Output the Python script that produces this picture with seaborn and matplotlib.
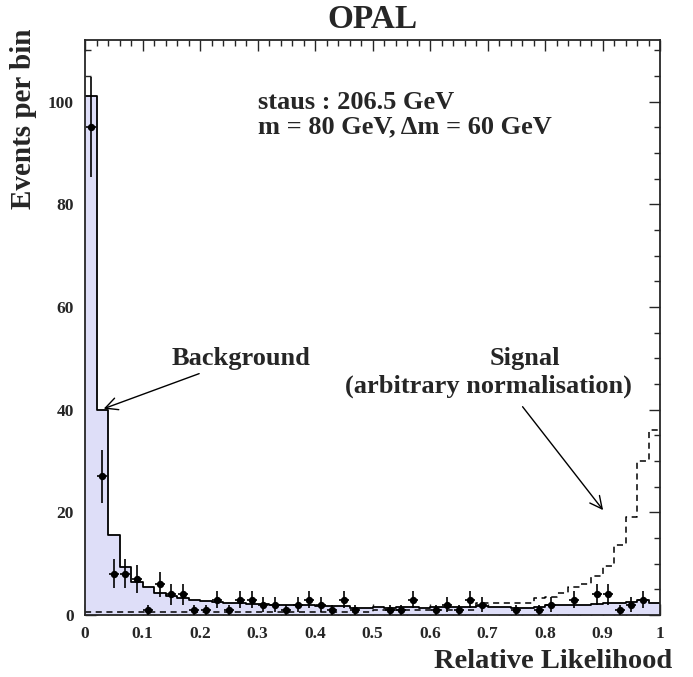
import numpy as np
import pandas as pd
import matplotlib
matplotlib.use("Agg")
import matplotlib.pyplot as plt
from matplotlib.ticker import MultipleLocator, FixedLocator, FixedFormatter
import seaborn as sns

# ---- data (50 bins of width 0.02 between 0 and 1) ----
bin_edges = [round(i * 0.02, 2) for i in range(51)]
background = [101, 40, 15.6, 9.3, 6.5, 5.4, 4.35, 3.7, 3.4, 2.9,
              2.7, 2.6, 2.4, 2.3, 2.2, 2.1, 2.0, 2.0, 1.9, 1.9,
              1.8, 1.7, 1.7, 1.4, 1.3, 1.5, 1.4, 1.5, 1.6, 1.4,
              1.5, 1.6, 1.5, 1.6, 1.7, 1.5, 1.5, 1.4, 1.4, 1.5,
              1.9, 1.9, 2.0, 2.0, 2.1, 2.4, 2.4, 2.5, 3.0, 2.3]
signal = [0.5] * 25 + [1.0, 1.0, 1.0, 1.0, 1.0, 1.0, 1.0, 1.0, 1.0,
                       2.3, 2.3, 2.3, 2.3, 2.3,
                       3.3, 3.5, 4.2, 5.5, 6.0, 7.5, 9.6, 13.6, 19.0, 29.9, 36.1]
data_counts = [95, 27, 8, 8, 7, 1, 6, 4, 4, 1,
               1, 3, 1, 3, 3, 2, 2, 1, 2, 3,
               2, 1, 3, 1, 0, 0, 1, 1, 3, 0,
               1, 2, 1, 3, 2, 0, 0, 1, 0, 1,
               2, 0, 3, 0, 4, 4, 1, 2, 3, 0]
x_tick_values = [0, 0.1, 0.2, 0.3, 0.4, 0.5, 0.6, 0.7, 0.8, 0.9, 1.0]
x_tick_labels = ["0", "0.1", "0.2", "0.3", "0.4", "0.5", "0.6", "0.7", "0.8", "0.9", "1"]
y_tick_values = [0, 20, 40, 60, 80, 100]

edges = np.array(bin_edges)
centers = 0.5 * (edges[:-1] + edges[1:])
df = pd.DataFrame({"x": centers, "bg": background, "sig": signal, "n": data_counts})

sns.set_style("ticks")
plt.rcParams["font.family"] = ["Liberation Serif", "DejaVu Serif"]
plt.rcParams["font.weight"] = "bold"
plt.rcParams["axes.labelweight"] = "bold"
plt.rcParams["axes.titleweight"] = "bold"

fig = plt.figure(figsize=(6.93, 6.77), dpi=100)
ax = fig.add_axes([0.1227, 0.0916, 0.8297, 0.8493])

# background: filled + outline
sns.histplot(x=df["x"], weights=df["bg"], bins=bin_edges, element="step",
             fill=True, color="#dedef8", alpha=1.0, linewidth=0, ax=ax)
sns.histplot(x=df["x"], weights=df["bg"], bins=bin_edges, element="step",
             fill=False, color="black", linewidth=1.3, ax=ax)
# signal: dashed outline
sns.histplot(x=df["x"], weights=df["sig"], bins=bin_edges, element="step",
             fill=False, color="black", linewidth=1.1, linestyle=(0, (4, 3)), ax=ax)

# data points with Poisson errors
pts = df[df["n"] > 0]
ax.errorbar(pts["x"], pts["n"], yerr=np.sqrt(pts["n"]), xerr=0.009,
            fmt="none", ecolor="black", elinewidth=1.2, capsize=0, zorder=5)
sns.scatterplot(x=pts["x"], y=pts["n"], color="black", s=28, linewidth=0,
                zorder=6, ax=ax)

ax.set_xlim(0, 1)
ax.set_ylim(0, 112)

ax.xaxis.set_major_locator(FixedLocator(x_tick_values))
ax.xaxis.set_major_formatter(FixedFormatter(x_tick_labels))
ax.xaxis.set_minor_locator(MultipleLocator(0.02))
ax.yaxis.set_major_locator(FixedLocator(y_tick_values))
ax.yaxis.set_minor_locator(MultipleLocator(5))
ax.tick_params(which="both", direction="in", top=True, right=True,
               labelsize=12.5, pad=8, width=1.0)
ax.tick_params(which="major", length=8)
ax.tick_params(which="minor", length=4)
for sp in ax.spines.values():
    sp.set_linewidth(1.3)
    sp.set_visible(True)

ax.set_title("OPAL", fontsize=24, fontweight="bold", pad=9)
ax.set_xlabel("Relative Likelihood", fontsize=20.5, fontweight="bold", loc="right")
ax.xaxis.set_label_coords(1.021, -0.06)
ax.set_ylabel("Events per bin", fontsize=21, fontweight="bold", loc="top")
ax.yaxis.set_label_coords(-0.083, 1.02)

ax.text(0.30, 99.8, "staus : 206.5 GeV", fontsize=19, fontweight="bold",
        ha="left", va="center")
ax.text(0.30, 95.1, "m = 80 GeV, \u0394m = 60 GeV", fontsize=19, fontweight="bold",
        ha="left", va="center")

ax.text(0.271, 50, "Background", fontsize=19, fontweight="bold", ha="center", va="center")
ax.text(0.765, 50, "Signal", fontsize=19, fontweight="bold", ha="center", va="center")
ax.text(0.702, 44.5, "(arbitrary normalisation)", fontsize=19, fontweight="bold",
        ha="center", va="center")

ax.annotate("", xy=(0.028, 40), xytext=(0.203, 47.2),
            arrowprops=dict(arrowstyle="->", color="black", lw=1.0, mutation_scale=22))
ax.annotate("", xy=(0.904, 20), xytext=(0.758, 41),
            arrowprops=dict(arrowstyle="->", color="black", lw=1.0, mutation_scale=22))

fig.savefig("out.png", dpi=100)
